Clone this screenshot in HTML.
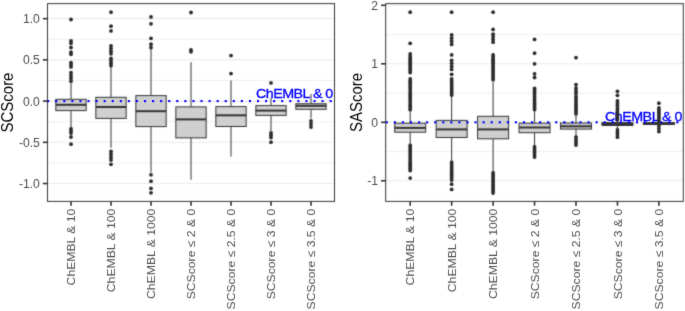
<!DOCTYPE html>
<html><head><meta charset="utf-8"><style>
html,body{margin:0;padding:0;background:#fff;}
body{width:685px;height:311px;overflow:hidden;font-family:"Liberation Sans", sans-serif;}
svg{display:block;}
</style></head><body>
<svg width="685" height="311" viewBox="0 0 685 311" font-family="Liberation Sans, sans-serif">
<defs><filter id="bl" filterUnits="userSpaceOnUse" x="0" y="0" width="685" height="311" color-interpolation-filters="sRGB"><feConvolveMatrix order="3" kernelMatrix="0.0225 0.1050 0.0225 0.1050 0.4900 0.1050 0.0225 0.1050 0.0225" divisor="1" edgeMode="none" preserveAlpha="false"/></filter><filter id="bt" filterUnits="userSpaceOnUse" x="0" y="0" width="685" height="311" color-interpolation-filters="sRGB"><feConvolveMatrix order="3" kernelMatrix="0.0100 0.0800 0.0100 0.0800 0.6400 0.0800 0.0100 0.0800 0.0100" divisor="1" edgeMode="none" preserveAlpha="false"/></filter></defs>
<rect width="685" height="311" fill="#fff"/>
<g filter="url(#bl)">
<line x1="47.5" x2="334.5" y1="39.26" y2="39.26" stroke="#EBEBEB" stroke-width="0.8"/>
<line x1="47.5" x2="334.5" y1="80.49" y2="80.49" stroke="#EBEBEB" stroke-width="0.8"/>
<line x1="47.5" x2="334.5" y1="121.71" y2="121.71" stroke="#EBEBEB" stroke-width="0.8"/>
<line x1="47.5" x2="334.5" y1="162.94" y2="162.94" stroke="#EBEBEB" stroke-width="0.8"/>
<line x1="47.5" x2="334.5" y1="18.65" y2="18.65" stroke="#EBEBEB" stroke-width="1.1"/>
<line x1="47.5" x2="334.5" y1="59.87" y2="59.87" stroke="#EBEBEB" stroke-width="1.1"/>
<line x1="47.5" x2="334.5" y1="101.10" y2="101.10" stroke="#EBEBEB" stroke-width="1.1"/>
<line x1="47.5" x2="334.5" y1="142.32" y2="142.32" stroke="#EBEBEB" stroke-width="1.1"/>
<line x1="47.5" x2="334.5" y1="183.55" y2="183.55" stroke="#EBEBEB" stroke-width="1.1"/>
<line x1="71.0" x2="71.0" y1="83.0" y2="99.3" stroke="#333333" stroke-width="1"/>
<line x1="71.0" x2="71.0" y1="110.6" y2="127.8" stroke="#333333" stroke-width="1"/>
<rect x="55.85" y="99.3" width="30.3" height="11.30" fill="#CFCFCF" stroke="#333333" stroke-width="1"/>
<line x1="55.85" x2="86.15" y1="104.8" y2="104.8" stroke="#333333" stroke-width="2"/>
<line x1="111.0" x2="111.0" y1="66.5" y2="97.3" stroke="#333333" stroke-width="1"/>
<line x1="111.0" x2="111.0" y1="118.4" y2="147.9" stroke="#333333" stroke-width="1"/>
<rect x="95.85" y="97.3" width="30.3" height="21.10" fill="#CFCFCF" stroke="#333333" stroke-width="1"/>
<line x1="95.85" x2="126.15" y1="107.0" y2="107.0" stroke="#333333" stroke-width="2"/>
<line x1="151.0" x2="151.0" y1="48.4" y2="95.6" stroke="#333333" stroke-width="1"/>
<line x1="151.0" x2="151.0" y1="126.6" y2="172.5" stroke="#333333" stroke-width="1"/>
<rect x="135.85" y="95.6" width="30.3" height="31.00" fill="#CFCFCF" stroke="#333333" stroke-width="1"/>
<line x1="135.85" x2="166.15" y1="111.2" y2="111.2" stroke="#333333" stroke-width="2"/>
<line x1="191.0" x2="191.0" y1="62.2" y2="106.9" stroke="#333333" stroke-width="1"/>
<line x1="191.0" x2="191.0" y1="137.9" y2="179.8" stroke="#333333" stroke-width="1"/>
<rect x="175.85" y="106.9" width="30.3" height="31.00" fill="#CFCFCF" stroke="#333333" stroke-width="1"/>
<line x1="175.85" x2="206.15" y1="119.4" y2="119.4" stroke="#333333" stroke-width="2"/>
<line x1="231.0" x2="231.0" y1="80.4" y2="106.6" stroke="#333333" stroke-width="1"/>
<line x1="231.0" x2="231.0" y1="126.5" y2="156.5" stroke="#333333" stroke-width="1"/>
<rect x="215.85" y="106.6" width="30.3" height="19.90" fill="#CFCFCF" stroke="#333333" stroke-width="1"/>
<line x1="215.85" x2="246.15" y1="115.3" y2="115.3" stroke="#333333" stroke-width="2"/>
<line x1="271.0" x2="271.0" y1="97.5" y2="105.6" stroke="#333333" stroke-width="1"/>
<line x1="271.0" x2="271.0" y1="115.4" y2="131.0" stroke="#333333" stroke-width="1"/>
<rect x="255.85" y="105.6" width="30.3" height="9.80" fill="#CFCFCF" stroke="#333333" stroke-width="1"/>
<line x1="255.85" x2="286.15" y1="110.6" y2="110.6" stroke="#333333" stroke-width="2"/>
<line x1="311.0" x2="311.0" y1="94.0" y2="103.7" stroke="#333333" stroke-width="1"/>
<line x1="311.0" x2="311.0" y1="109.3" y2="118.5" stroke="#333333" stroke-width="1"/>
<rect x="295.85" y="103.7" width="30.3" height="5.60" fill="#CFCFCF" stroke="#333333" stroke-width="1"/>
<line x1="295.85" x2="326.15" y1="105.8" y2="105.8" stroke="#333333" stroke-width="2"/>
<rect x="47.5" y="3.6" width="287.0" height="197.8" fill="none" stroke="#333333" stroke-width="1"/>
<line x1="385.7" x2="683.3" y1="34.55" y2="34.55" stroke="#EBEBEB" stroke-width="0.8"/>
<line x1="385.7" x2="683.3" y1="93.05" y2="93.05" stroke="#EBEBEB" stroke-width="0.8"/>
<line x1="385.7" x2="683.3" y1="151.55" y2="151.55" stroke="#EBEBEB" stroke-width="0.8"/>
<line x1="385.7" x2="683.3" y1="5.30" y2="5.30" stroke="#EBEBEB" stroke-width="1.1"/>
<line x1="385.7" x2="683.3" y1="63.80" y2="63.80" stroke="#EBEBEB" stroke-width="1.1"/>
<line x1="385.7" x2="683.3" y1="122.30" y2="122.30" stroke="#EBEBEB" stroke-width="1.1"/>
<line x1="385.7" x2="683.3" y1="180.80" y2="180.80" stroke="#EBEBEB" stroke-width="1.1"/>
<line x1="410.2" x2="410.2" y1="110.0" y2="123.2" stroke="#333333" stroke-width="1"/>
<line x1="410.2" x2="410.2" y1="132.2" y2="144.7" stroke="#333333" stroke-width="1"/>
<rect x="394.70" y="123.2" width="31.0" height="9.00" fill="#CFCFCF" stroke="#333333" stroke-width="1"/>
<line x1="394.70" x2="425.70" y1="127.9" y2="127.9" stroke="#333333" stroke-width="2"/>
<line x1="451.65" x2="451.65" y1="95.5" y2="120.4" stroke="#333333" stroke-width="1"/>
<line x1="451.65" x2="451.65" y1="137.5" y2="162.0" stroke="#333333" stroke-width="1"/>
<rect x="436.15" y="120.4" width="31.0" height="17.10" fill="#CFCFCF" stroke="#333333" stroke-width="1"/>
<line x1="436.15" x2="467.15" y1="129.4" y2="129.4" stroke="#333333" stroke-width="2"/>
<line x1="493.1" x2="493.1" y1="82.0" y2="116.3" stroke="#333333" stroke-width="1"/>
<line x1="493.1" x2="493.1" y1="138.8" y2="172.5" stroke="#333333" stroke-width="1"/>
<rect x="477.60" y="116.3" width="31.0" height="22.50" fill="#CFCFCF" stroke="#333333" stroke-width="1"/>
<line x1="477.60" x2="508.60" y1="129.4" y2="129.4" stroke="#333333" stroke-width="2"/>
<line x1="534.55" x2="534.55" y1="110.0" y2="123.2" stroke="#333333" stroke-width="1"/>
<line x1="534.55" x2="534.55" y1="132.7" y2="146.4" stroke="#333333" stroke-width="1"/>
<rect x="519.05" y="123.2" width="31.0" height="9.50" fill="#CFCFCF" stroke="#333333" stroke-width="1"/>
<line x1="519.05" x2="550.05" y1="127.5" y2="127.5" stroke="#333333" stroke-width="2"/>
<line x1="576.0" x2="576.0" y1="115.0" y2="123.0" stroke="#333333" stroke-width="1"/>
<line x1="576.0" x2="576.0" y1="129.1" y2="136.7" stroke="#333333" stroke-width="1"/>
<rect x="560.50" y="123.0" width="31.0" height="6.10" fill="#CFCFCF" stroke="#333333" stroke-width="1"/>
<line x1="560.50" x2="591.50" y1="126.3" y2="126.3" stroke="#333333" stroke-width="2"/>
<line x1="617.45" x2="617.45" y1="120.5" y2="122.6" stroke="#333333" stroke-width="1"/>
<line x1="617.45" x2="617.45" y1="125.5" y2="129.0" stroke="#333333" stroke-width="1"/>
<rect x="601.95" y="122.6" width="31.0" height="2.90" fill="#CFCFCF" stroke="#333333" stroke-width="1"/>
<line x1="601.95" x2="632.95" y1="124.0" y2="124.0" stroke="#333333" stroke-width="2"/>
<line x1="658.9" x2="658.9" y1="121.8" y2="122.6" stroke="#333333" stroke-width="1"/>
<line x1="658.9" x2="658.9" y1="124.5" y2="125.0" stroke="#333333" stroke-width="1"/>
<rect x="643.40" y="122.6" width="31.0" height="1.90" fill="#CFCFCF" stroke="#333333" stroke-width="1"/>
<line x1="643.40" x2="674.40" y1="123.5" y2="123.5" stroke="#333333" stroke-width="2"/>
<rect x="385.7" y="3.6" width="297.59999999999997" height="197.8" fill="none" stroke="#333333" stroke-width="1"/>
</g>
<g filter="url(#bt)">
<rect x="47.15" y="100.05" width="2.1" height="2.1" fill="#0000FF"/>
<rect x="55.22" y="100.05" width="2.1" height="2.1" fill="#0000FF"/>
<rect x="63.29" y="100.05" width="2.1" height="2.1" fill="#0000FF"/>
<rect x="71.36" y="100.05" width="2.1" height="2.1" fill="#0000FF"/>
<rect x="79.43" y="100.05" width="2.1" height="2.1" fill="#0000FF"/>
<rect x="87.50" y="100.05" width="2.1" height="2.1" fill="#0000FF"/>
<rect x="95.57" y="100.05" width="2.1" height="2.1" fill="#0000FF"/>
<rect x="103.64" y="100.05" width="2.1" height="2.1" fill="#0000FF"/>
<rect x="111.71" y="100.05" width="2.1" height="2.1" fill="#0000FF"/>
<rect x="119.78" y="100.05" width="2.1" height="2.1" fill="#0000FF"/>
<rect x="127.85" y="100.05" width="2.1" height="2.1" fill="#0000FF"/>
<rect x="135.92" y="100.05" width="2.1" height="2.1" fill="#0000FF"/>
<rect x="143.99" y="100.05" width="2.1" height="2.1" fill="#0000FF"/>
<rect x="152.06" y="100.05" width="2.1" height="2.1" fill="#0000FF"/>
<rect x="160.13" y="100.05" width="2.1" height="2.1" fill="#0000FF"/>
<rect x="168.20" y="100.05" width="2.1" height="2.1" fill="#0000FF"/>
<rect x="176.27" y="100.05" width="2.1" height="2.1" fill="#0000FF"/>
<rect x="184.34" y="100.05" width="2.1" height="2.1" fill="#0000FF"/>
<rect x="192.41" y="100.05" width="2.1" height="2.1" fill="#0000FF"/>
<rect x="200.48" y="100.05" width="2.1" height="2.1" fill="#0000FF"/>
<rect x="208.55" y="100.05" width="2.1" height="2.1" fill="#0000FF"/>
<rect x="216.62" y="100.05" width="2.1" height="2.1" fill="#0000FF"/>
<rect x="224.69" y="100.05" width="2.1" height="2.1" fill="#0000FF"/>
<rect x="232.76" y="100.05" width="2.1" height="2.1" fill="#0000FF"/>
<rect x="240.83" y="100.05" width="2.1" height="2.1" fill="#0000FF"/>
<rect x="248.90" y="100.05" width="2.1" height="2.1" fill="#0000FF"/>
<rect x="256.97" y="100.05" width="2.1" height="2.1" fill="#0000FF"/>
<rect x="265.04" y="100.05" width="2.1" height="2.1" fill="#0000FF"/>
<rect x="273.11" y="100.05" width="2.1" height="2.1" fill="#0000FF"/>
<rect x="281.18" y="100.05" width="2.1" height="2.1" fill="#0000FF"/>
<rect x="289.25" y="100.05" width="2.1" height="2.1" fill="#0000FF"/>
<rect x="297.32" y="100.05" width="2.1" height="2.1" fill="#0000FF"/>
<rect x="305.39" y="100.05" width="2.1" height="2.1" fill="#0000FF"/>
<rect x="313.46" y="100.05" width="2.1" height="2.1" fill="#0000FF"/>
<rect x="321.53" y="100.05" width="2.1" height="2.1" fill="#0000FF"/>
<rect x="329.60" y="100.05" width="2.1" height="2.1" fill="#0000FF"/>
<text transform="translate(255.9,97.7) scale(1.06,1)" font-size="13.5" letter-spacing="-0.5" fill="#0000FF" stroke="#0000FF" stroke-width="0.3">ChEMBL &amp; 0</text>
<line x1="42.90" x2="47.5" y1="18.65" y2="18.65" stroke="#333333" stroke-width="1.6"/>
<text x="39.90" y="23.25" text-anchor="end" font-size="12.2" fill="#4D4D4D">1.0</text>
<line x1="42.90" x2="47.5" y1="59.87" y2="59.87" stroke="#333333" stroke-width="1.6"/>
<text x="39.90" y="64.47" text-anchor="end" font-size="12.2" fill="#4D4D4D">0.5</text>
<line x1="42.90" x2="47.5" y1="101.10" y2="101.10" stroke="#333333" stroke-width="1.6"/>
<text x="39.90" y="105.70" text-anchor="end" font-size="12.2" fill="#4D4D4D">0.0</text>
<line x1="42.90" x2="47.5" y1="142.32" y2="142.32" stroke="#333333" stroke-width="1.6"/>
<text x="39.90" y="146.92" text-anchor="end" font-size="12.2" fill="#4D4D4D">-0.5</text>
<line x1="42.90" x2="47.5" y1="183.55" y2="183.55" stroke="#333333" stroke-width="1.6"/>
<text x="39.90" y="188.15" text-anchor="end" font-size="12.2" fill="#4D4D4D">-1.0</text>
<line x1="71.0" x2="71.0" y1="201.4" y2="205.70" stroke="#333333" stroke-width="1.6"/>
<text transform="translate(75.20,208.70) rotate(-90) scale(1,0.95)" text-anchor="end" font-size="12.2" fill="#4D4D4D">ChEMBL &amp; 10</text>
<line x1="111.0" x2="111.0" y1="201.4" y2="205.70" stroke="#333333" stroke-width="1.6"/>
<text transform="translate(115.20,208.70) rotate(-90) scale(1,0.95)" text-anchor="end" font-size="12.2" fill="#4D4D4D">ChEMBL &amp; 100</text>
<line x1="151.0" x2="151.0" y1="201.4" y2="205.70" stroke="#333333" stroke-width="1.6"/>
<text transform="translate(155.20,208.70) rotate(-90) scale(1,0.95)" text-anchor="end" font-size="12.2" fill="#4D4D4D">ChEMBL &amp; 1000</text>
<line x1="191.0" x2="191.0" y1="201.4" y2="205.70" stroke="#333333" stroke-width="1.6"/>
<text transform="translate(195.20,208.70) rotate(-90) scale(1,0.95)" text-anchor="end" font-size="12.2" fill="#4D4D4D">SCScore ≤ 2 &amp; 0</text>
<line x1="231.0" x2="231.0" y1="201.4" y2="205.70" stroke="#333333" stroke-width="1.6"/>
<text transform="translate(235.20,208.70) rotate(-90) scale(1,0.95)" text-anchor="end" font-size="12.2" fill="#4D4D4D">SCScore ≤ 2.5 &amp; 0</text>
<line x1="271.0" x2="271.0" y1="201.4" y2="205.70" stroke="#333333" stroke-width="1.6"/>
<text transform="translate(275.20,208.70) rotate(-90) scale(1,0.95)" text-anchor="end" font-size="12.2" fill="#4D4D4D">SCScore ≤ 3 &amp; 0</text>
<line x1="311.0" x2="311.0" y1="201.4" y2="205.70" stroke="#333333" stroke-width="1.6"/>
<text transform="translate(315.20,208.70) rotate(-90) scale(1,0.95)" text-anchor="end" font-size="12.2" fill="#4D4D4D">SCScore ≤ 3.5 &amp; 0</text>
<text transform="translate(12.80,102.50) rotate(-90) scale(0.98,1.05)" text-anchor="middle" font-size="15.3" fill="#000">SCScore</text>
<rect x="385.75" y="121.25" width="2.1" height="2.1" fill="#0000FF"/>
<rect x="393.82" y="121.25" width="2.1" height="2.1" fill="#0000FF"/>
<rect x="401.89" y="121.25" width="2.1" height="2.1" fill="#0000FF"/>
<rect x="409.96" y="121.25" width="2.1" height="2.1" fill="#0000FF"/>
<rect x="418.03" y="121.25" width="2.1" height="2.1" fill="#0000FF"/>
<rect x="426.10" y="121.25" width="2.1" height="2.1" fill="#0000FF"/>
<rect x="434.17" y="121.25" width="2.1" height="2.1" fill="#0000FF"/>
<rect x="442.24" y="121.25" width="2.1" height="2.1" fill="#0000FF"/>
<rect x="450.31" y="121.25" width="2.1" height="2.1" fill="#0000FF"/>
<rect x="458.38" y="121.25" width="2.1" height="2.1" fill="#0000FF"/>
<rect x="466.45" y="121.25" width="2.1" height="2.1" fill="#0000FF"/>
<rect x="474.52" y="121.25" width="2.1" height="2.1" fill="#0000FF"/>
<rect x="482.59" y="121.25" width="2.1" height="2.1" fill="#0000FF"/>
<rect x="490.66" y="121.25" width="2.1" height="2.1" fill="#0000FF"/>
<rect x="498.73" y="121.25" width="2.1" height="2.1" fill="#0000FF"/>
<rect x="506.80" y="121.25" width="2.1" height="2.1" fill="#0000FF"/>
<rect x="514.87" y="121.25" width="2.1" height="2.1" fill="#0000FF"/>
<rect x="522.94" y="121.25" width="2.1" height="2.1" fill="#0000FF"/>
<rect x="531.01" y="121.25" width="2.1" height="2.1" fill="#0000FF"/>
<rect x="539.08" y="121.25" width="2.1" height="2.1" fill="#0000FF"/>
<rect x="547.15" y="121.25" width="2.1" height="2.1" fill="#0000FF"/>
<rect x="555.22" y="121.25" width="2.1" height="2.1" fill="#0000FF"/>
<rect x="563.29" y="121.25" width="2.1" height="2.1" fill="#0000FF"/>
<rect x="571.36" y="121.25" width="2.1" height="2.1" fill="#0000FF"/>
<rect x="579.43" y="121.25" width="2.1" height="2.1" fill="#0000FF"/>
<rect x="587.50" y="121.25" width="2.1" height="2.1" fill="#0000FF"/>
<rect x="595.57" y="121.25" width="2.1" height="2.1" fill="#0000FF"/>
<rect x="603.64" y="121.25" width="2.1" height="2.1" fill="#0000FF"/>
<rect x="611.71" y="121.25" width="2.1" height="2.1" fill="#0000FF"/>
<rect x="619.78" y="121.25" width="2.1" height="2.1" fill="#0000FF"/>
<rect x="627.85" y="121.25" width="2.1" height="2.1" fill="#0000FF"/>
<rect x="635.92" y="121.25" width="2.1" height="2.1" fill="#0000FF"/>
<rect x="643.99" y="121.25" width="2.1" height="2.1" fill="#0000FF"/>
<rect x="652.06" y="121.25" width="2.1" height="2.1" fill="#0000FF"/>
<rect x="660.13" y="121.25" width="2.1" height="2.1" fill="#0000FF"/>
<rect x="668.20" y="121.25" width="2.1" height="2.1" fill="#0000FF"/>
<rect x="676.27" y="121.25" width="2.1" height="2.1" fill="#0000FF"/>
<text transform="translate(605.0,121.0) scale(1.06,1)" font-size="13.5" letter-spacing="-0.5" fill="#0000FF" stroke="#0000FF" stroke-width="0.3">ChEMBL &amp; 0</text>
<line x1="381.10" x2="385.7" y1="5.30" y2="5.30" stroke="#333333" stroke-width="1.6"/>
<text x="378.10" y="9.90" text-anchor="end" font-size="12.2" fill="#4D4D4D">2</text>
<line x1="381.10" x2="385.7" y1="63.80" y2="63.80" stroke="#333333" stroke-width="1.6"/>
<text x="378.10" y="68.40" text-anchor="end" font-size="12.2" fill="#4D4D4D">1</text>
<line x1="381.10" x2="385.7" y1="122.30" y2="122.30" stroke="#333333" stroke-width="1.6"/>
<text x="378.10" y="126.90" text-anchor="end" font-size="12.2" fill="#4D4D4D">0</text>
<line x1="381.10" x2="385.7" y1="180.80" y2="180.80" stroke="#333333" stroke-width="1.6"/>
<text x="378.10" y="185.40" text-anchor="end" font-size="12.2" fill="#4D4D4D">-1</text>
<line x1="410.2" x2="410.2" y1="201.4" y2="205.70" stroke="#333333" stroke-width="1.6"/>
<text transform="translate(414.40,208.70) rotate(-90) scale(1,0.95)" text-anchor="end" font-size="12.2" fill="#4D4D4D">ChEMBL &amp; 10</text>
<line x1="451.65" x2="451.65" y1="201.4" y2="205.70" stroke="#333333" stroke-width="1.6"/>
<text transform="translate(455.85,208.70) rotate(-90) scale(1,0.95)" text-anchor="end" font-size="12.2" fill="#4D4D4D">ChEMBL &amp; 100</text>
<line x1="493.1" x2="493.1" y1="201.4" y2="205.70" stroke="#333333" stroke-width="1.6"/>
<text transform="translate(497.30,208.70) rotate(-90) scale(1,0.95)" text-anchor="end" font-size="12.2" fill="#4D4D4D">ChEMBL &amp; 1000</text>
<line x1="534.55" x2="534.55" y1="201.4" y2="205.70" stroke="#333333" stroke-width="1.6"/>
<text transform="translate(538.75,208.70) rotate(-90) scale(1,0.95)" text-anchor="end" font-size="12.2" fill="#4D4D4D">SCScore ≤ 2 &amp; 0</text>
<line x1="576.0" x2="576.0" y1="201.4" y2="205.70" stroke="#333333" stroke-width="1.6"/>
<text transform="translate(580.20,208.70) rotate(-90) scale(1,0.95)" text-anchor="end" font-size="12.2" fill="#4D4D4D">SCScore ≤ 2.5 &amp; 0</text>
<line x1="617.45" x2="617.45" y1="201.4" y2="205.70" stroke="#333333" stroke-width="1.6"/>
<text transform="translate(621.65,208.70) rotate(-90) scale(1,0.95)" text-anchor="end" font-size="12.2" fill="#4D4D4D">SCScore ≤ 3 &amp; 0</text>
<line x1="658.9" x2="658.9" y1="201.4" y2="205.70" stroke="#333333" stroke-width="1.6"/>
<text transform="translate(663.10,208.70) rotate(-90) scale(1,0.95)" text-anchor="end" font-size="12.2" fill="#4D4D4D">SCScore ≤ 3.5 &amp; 0</text>
<text transform="translate(362.20,102.50) rotate(-90) scale(0.98,1.05)" text-anchor="middle" font-size="15.3" fill="#000">SAScore</text>
</g>
<g filter="url(#bl)">
<circle cx="71.0" cy="19.5" r="1.9" fill="#2B2B2B"/>
<circle cx="71.0" cy="40.80" r="1.9" fill="#2B2B2B"/>
<circle cx="71.0" cy="43.20" r="1.9" fill="#2B2B2B"/>
<circle cx="71.0" cy="47.5" r="1.9" fill="#2B2B2B"/>
<circle cx="71.0" cy="52.20" r="1.9" fill="#2B2B2B"/>
<circle cx="71.0" cy="54.30" r="1.9" fill="#2B2B2B"/>
<circle cx="71.0" cy="62.60" r="1.9" fill="#2B2B2B"/>
<circle cx="71.0" cy="64.75" r="1.9" fill="#2B2B2B"/>
<circle cx="71.0" cy="66.90" r="1.9" fill="#2B2B2B"/>
<circle cx="71.0" cy="72.70" r="1.9" fill="#2B2B2B"/>
<circle cx="71.0" cy="75.53" r="1.9" fill="#2B2B2B"/>
<circle cx="71.0" cy="78.37" r="1.9" fill="#2B2B2B"/>
<circle cx="71.0" cy="81.20" r="1.9" fill="#2B2B2B"/>
<circle cx="71.0" cy="128.80" r="1.9" fill="#2B2B2B"/>
<circle cx="71.0" cy="130.90" r="1.9" fill="#2B2B2B"/>
<circle cx="71.0" cy="133.00" r="1.9" fill="#2B2B2B"/>
<circle cx="71.0" cy="137.0" r="1.9" fill="#2B2B2B"/>
<circle cx="71.0" cy="144.2" r="1.9" fill="#2B2B2B"/>
<circle cx="111.0" cy="12.2" r="1.9" fill="#2B2B2B"/>
<circle cx="111.0" cy="26.2" r="1.9" fill="#2B2B2B"/>
<circle cx="111.0" cy="30.9" r="1.9" fill="#2B2B2B"/>
<circle cx="111.0" cy="45.80" r="1.9" fill="#2B2B2B"/>
<circle cx="111.0" cy="48.47" r="1.9" fill="#2B2B2B"/>
<circle cx="111.0" cy="51.13" r="1.9" fill="#2B2B2B"/>
<circle cx="111.0" cy="53.80" r="1.9" fill="#2B2B2B"/>
<circle cx="111.0" cy="58.50" r="1.9" fill="#2B2B2B"/>
<circle cx="111.0" cy="60.87" r="1.9" fill="#2B2B2B"/>
<circle cx="111.0" cy="63.23" r="1.9" fill="#2B2B2B"/>
<circle cx="111.0" cy="65.60" r="1.9" fill="#2B2B2B"/>
<circle cx="111.0" cy="151.50" r="1.9" fill="#2B2B2B"/>
<circle cx="111.0" cy="154.33" r="1.9" fill="#2B2B2B"/>
<circle cx="111.0" cy="157.17" r="1.9" fill="#2B2B2B"/>
<circle cx="111.0" cy="160.00" r="1.9" fill="#2B2B2B"/>
<circle cx="111.0" cy="164.3" r="1.9" fill="#2B2B2B"/>
<circle cx="151.0" cy="16.9" r="1.9" fill="#2B2B2B"/>
<circle cx="151.0" cy="23.8" r="1.9" fill="#2B2B2B"/>
<circle cx="151.0" cy="38.3" r="1.9" fill="#2B2B2B"/>
<circle cx="151.0" cy="44.20" r="1.9" fill="#2B2B2B"/>
<circle cx="151.0" cy="47.60" r="1.9" fill="#2B2B2B"/>
<circle cx="151.0" cy="174.8" r="1.9" fill="#2B2B2B"/>
<circle cx="151.0" cy="181.2" r="1.9" fill="#2B2B2B"/>
<circle cx="151.0" cy="188.4" r="1.9" fill="#2B2B2B"/>
<circle cx="151.0" cy="192.8" r="1.9" fill="#2B2B2B"/>
<circle cx="191.0" cy="12.5" r="1.9" fill="#2B2B2B"/>
<circle cx="191.0" cy="49.80" r="1.9" fill="#2B2B2B"/>
<circle cx="191.0" cy="51.80" r="1.9" fill="#2B2B2B"/>
<circle cx="231.0" cy="55.6" r="1.9" fill="#2B2B2B"/>
<circle cx="231.0" cy="73.6" r="1.9" fill="#2B2B2B"/>
<circle cx="271.0" cy="82.9" r="1.9" fill="#2B2B2B"/>
<circle cx="271.0" cy="132.80" r="1.9" fill="#2B2B2B"/>
<circle cx="271.0" cy="135.20" r="1.9" fill="#2B2B2B"/>
<circle cx="271.0" cy="137.60" r="1.9" fill="#2B2B2B"/>
<circle cx="271.0" cy="142.2" r="1.9" fill="#2B2B2B"/>
<circle cx="311.0" cy="120.90" r="1.9" fill="#2B2B2B"/>
<circle cx="311.0" cy="123.95" r="1.9" fill="#2B2B2B"/>
<circle cx="311.0" cy="127.00" r="1.9" fill="#2B2B2B"/>
<circle cx="410.2" cy="12.2" r="1.9" fill="#2B2B2B"/>
<circle cx="410.2" cy="43.3" r="1.9" fill="#2B2B2B"/>
<circle cx="410.2" cy="54.00" r="1.9" fill="#2B2B2B"/>
<circle cx="410.2" cy="56.07" r="1.9" fill="#2B2B2B"/>
<circle cx="410.2" cy="58.13" r="1.9" fill="#2B2B2B"/>
<circle cx="410.2" cy="60.20" r="1.9" fill="#2B2B2B"/>
<circle cx="410.2" cy="62.27" r="1.9" fill="#2B2B2B"/>
<circle cx="410.2" cy="64.33" r="1.9" fill="#2B2B2B"/>
<circle cx="410.2" cy="66.40" r="1.9" fill="#2B2B2B"/>
<circle cx="410.2" cy="68.47" r="1.9" fill="#2B2B2B"/>
<circle cx="410.2" cy="70.53" r="1.9" fill="#2B2B2B"/>
<circle cx="410.2" cy="72.60" r="1.9" fill="#2B2B2B"/>
<circle cx="410.2" cy="79.00" r="1.9" fill="#2B2B2B"/>
<circle cx="410.2" cy="81.19" r="1.9" fill="#2B2B2B"/>
<circle cx="410.2" cy="83.37" r="1.9" fill="#2B2B2B"/>
<circle cx="410.2" cy="85.56" r="1.9" fill="#2B2B2B"/>
<circle cx="410.2" cy="87.74" r="1.9" fill="#2B2B2B"/>
<circle cx="410.2" cy="89.93" r="1.9" fill="#2B2B2B"/>
<circle cx="410.2" cy="92.11" r="1.9" fill="#2B2B2B"/>
<circle cx="410.2" cy="94.30" r="1.9" fill="#2B2B2B"/>
<circle cx="410.2" cy="96.49" r="1.9" fill="#2B2B2B"/>
<circle cx="410.2" cy="98.67" r="1.9" fill="#2B2B2B"/>
<circle cx="410.2" cy="100.86" r="1.9" fill="#2B2B2B"/>
<circle cx="410.2" cy="103.04" r="1.9" fill="#2B2B2B"/>
<circle cx="410.2" cy="105.23" r="1.9" fill="#2B2B2B"/>
<circle cx="410.2" cy="107.41" r="1.9" fill="#2B2B2B"/>
<circle cx="410.2" cy="109.60" r="1.9" fill="#2B2B2B"/>
<circle cx="410.2" cy="145.50" r="1.9" fill="#2B2B2B"/>
<circle cx="410.2" cy="147.58" r="1.9" fill="#2B2B2B"/>
<circle cx="410.2" cy="149.67" r="1.9" fill="#2B2B2B"/>
<circle cx="410.2" cy="151.75" r="1.9" fill="#2B2B2B"/>
<circle cx="410.2" cy="153.83" r="1.9" fill="#2B2B2B"/>
<circle cx="410.2" cy="155.92" r="1.9" fill="#2B2B2B"/>
<circle cx="410.2" cy="158.00" r="1.9" fill="#2B2B2B"/>
<circle cx="410.2" cy="160.08" r="1.9" fill="#2B2B2B"/>
<circle cx="410.2" cy="162.17" r="1.9" fill="#2B2B2B"/>
<circle cx="410.2" cy="164.25" r="1.9" fill="#2B2B2B"/>
<circle cx="410.2" cy="166.33" r="1.9" fill="#2B2B2B"/>
<circle cx="410.2" cy="168.42" r="1.9" fill="#2B2B2B"/>
<circle cx="410.2" cy="170.50" r="1.9" fill="#2B2B2B"/>
<circle cx="410.2" cy="178.1" r="1.9" fill="#2B2B2B"/>
<circle cx="451.65" cy="12.2" r="1.9" fill="#2B2B2B"/>
<circle cx="451.65" cy="35.00" r="1.9" fill="#2B2B2B"/>
<circle cx="451.65" cy="38.13" r="1.9" fill="#2B2B2B"/>
<circle cx="451.65" cy="41.27" r="1.9" fill="#2B2B2B"/>
<circle cx="451.65" cy="44.40" r="1.9" fill="#2B2B2B"/>
<circle cx="451.65" cy="54.9" r="1.9" fill="#2B2B2B"/>
<circle cx="451.65" cy="60.30" r="1.9" fill="#2B2B2B"/>
<circle cx="451.65" cy="63.33" r="1.9" fill="#2B2B2B"/>
<circle cx="451.65" cy="66.37" r="1.9" fill="#2B2B2B"/>
<circle cx="451.65" cy="69.40" r="1.9" fill="#2B2B2B"/>
<circle cx="451.65" cy="74.3" r="1.9" fill="#2B2B2B"/>
<circle cx="451.65" cy="78.80" r="1.9" fill="#2B2B2B"/>
<circle cx="451.65" cy="80.83" r="1.9" fill="#2B2B2B"/>
<circle cx="451.65" cy="82.85" r="1.9" fill="#2B2B2B"/>
<circle cx="451.65" cy="84.88" r="1.9" fill="#2B2B2B"/>
<circle cx="451.65" cy="86.90" r="1.9" fill="#2B2B2B"/>
<circle cx="451.65" cy="88.92" r="1.9" fill="#2B2B2B"/>
<circle cx="451.65" cy="90.95" r="1.9" fill="#2B2B2B"/>
<circle cx="451.65" cy="92.97" r="1.9" fill="#2B2B2B"/>
<circle cx="451.65" cy="95.00" r="1.9" fill="#2B2B2B"/>
<circle cx="451.65" cy="162.50" r="1.9" fill="#2B2B2B"/>
<circle cx="451.65" cy="164.69" r="1.9" fill="#2B2B2B"/>
<circle cx="451.65" cy="166.88" r="1.9" fill="#2B2B2B"/>
<circle cx="451.65" cy="169.06" r="1.9" fill="#2B2B2B"/>
<circle cx="451.65" cy="171.25" r="1.9" fill="#2B2B2B"/>
<circle cx="451.65" cy="173.44" r="1.9" fill="#2B2B2B"/>
<circle cx="451.65" cy="175.62" r="1.9" fill="#2B2B2B"/>
<circle cx="451.65" cy="177.81" r="1.9" fill="#2B2B2B"/>
<circle cx="451.65" cy="180.00" r="1.9" fill="#2B2B2B"/>
<circle cx="451.65" cy="184.2" r="1.9" fill="#2B2B2B"/>
<circle cx="451.65" cy="189.4" r="1.9" fill="#2B2B2B"/>
<circle cx="493.1" cy="12.2" r="1.9" fill="#2B2B2B"/>
<circle cx="493.1" cy="29.4" r="1.9" fill="#2B2B2B"/>
<circle cx="493.1" cy="34.20" r="1.9" fill="#2B2B2B"/>
<circle cx="493.1" cy="36.87" r="1.9" fill="#2B2B2B"/>
<circle cx="493.1" cy="39.53" r="1.9" fill="#2B2B2B"/>
<circle cx="493.1" cy="42.20" r="1.9" fill="#2B2B2B"/>
<circle cx="493.1" cy="55.00" r="1.9" fill="#2B2B2B"/>
<circle cx="493.1" cy="57.07" r="1.9" fill="#2B2B2B"/>
<circle cx="493.1" cy="59.13" r="1.9" fill="#2B2B2B"/>
<circle cx="493.1" cy="61.20" r="1.9" fill="#2B2B2B"/>
<circle cx="493.1" cy="63.27" r="1.9" fill="#2B2B2B"/>
<circle cx="493.1" cy="65.33" r="1.9" fill="#2B2B2B"/>
<circle cx="493.1" cy="67.40" r="1.9" fill="#2B2B2B"/>
<circle cx="493.1" cy="69.47" r="1.9" fill="#2B2B2B"/>
<circle cx="493.1" cy="71.53" r="1.9" fill="#2B2B2B"/>
<circle cx="493.1" cy="73.60" r="1.9" fill="#2B2B2B"/>
<circle cx="493.1" cy="75.67" r="1.9" fill="#2B2B2B"/>
<circle cx="493.1" cy="77.73" r="1.9" fill="#2B2B2B"/>
<circle cx="493.1" cy="79.80" r="1.9" fill="#2B2B2B"/>
<circle cx="493.1" cy="173.00" r="1.9" fill="#2B2B2B"/>
<circle cx="493.1" cy="175.00" r="1.9" fill="#2B2B2B"/>
<circle cx="493.1" cy="177.00" r="1.9" fill="#2B2B2B"/>
<circle cx="493.1" cy="179.00" r="1.9" fill="#2B2B2B"/>
<circle cx="493.1" cy="181.00" r="1.9" fill="#2B2B2B"/>
<circle cx="493.1" cy="183.00" r="1.9" fill="#2B2B2B"/>
<circle cx="493.1" cy="185.00" r="1.9" fill="#2B2B2B"/>
<circle cx="493.1" cy="187.00" r="1.9" fill="#2B2B2B"/>
<circle cx="493.1" cy="189.00" r="1.9" fill="#2B2B2B"/>
<circle cx="493.1" cy="191.00" r="1.9" fill="#2B2B2B"/>
<circle cx="493.1" cy="193.00" r="1.9" fill="#2B2B2B"/>
<circle cx="534.55" cy="39.4" r="1.9" fill="#2B2B2B"/>
<circle cx="534.55" cy="53.2" r="1.9" fill="#2B2B2B"/>
<circle cx="534.55" cy="63.8" r="1.9" fill="#2B2B2B"/>
<circle cx="534.55" cy="73.8" r="1.9" fill="#2B2B2B"/>
<circle cx="534.55" cy="77.5" r="1.9" fill="#2B2B2B"/>
<circle cx="534.55" cy="88.30" r="1.9" fill="#2B2B2B"/>
<circle cx="534.55" cy="90.42" r="1.9" fill="#2B2B2B"/>
<circle cx="534.55" cy="92.54" r="1.9" fill="#2B2B2B"/>
<circle cx="534.55" cy="94.66" r="1.9" fill="#2B2B2B"/>
<circle cx="534.55" cy="96.78" r="1.9" fill="#2B2B2B"/>
<circle cx="534.55" cy="98.90" r="1.9" fill="#2B2B2B"/>
<circle cx="534.55" cy="101.02" r="1.9" fill="#2B2B2B"/>
<circle cx="534.55" cy="103.14" r="1.9" fill="#2B2B2B"/>
<circle cx="534.55" cy="105.26" r="1.9" fill="#2B2B2B"/>
<circle cx="534.55" cy="107.38" r="1.9" fill="#2B2B2B"/>
<circle cx="534.55" cy="109.50" r="1.9" fill="#2B2B2B"/>
<circle cx="534.55" cy="147.00" r="1.9" fill="#2B2B2B"/>
<circle cx="534.55" cy="149.00" r="1.9" fill="#2B2B2B"/>
<circle cx="534.55" cy="151.00" r="1.9" fill="#2B2B2B"/>
<circle cx="534.55" cy="153.00" r="1.9" fill="#2B2B2B"/>
<circle cx="534.55" cy="155.00" r="1.9" fill="#2B2B2B"/>
<circle cx="534.55" cy="157.00" r="1.9" fill="#2B2B2B"/>
<circle cx="576.0" cy="57.7" r="1.9" fill="#2B2B2B"/>
<circle cx="576.0" cy="84.7" r="1.9" fill="#2B2B2B"/>
<circle cx="576.0" cy="88.20" r="1.9" fill="#2B2B2B"/>
<circle cx="576.0" cy="91.00" r="1.9" fill="#2B2B2B"/>
<circle cx="576.0" cy="93.20" r="1.9" fill="#2B2B2B"/>
<circle cx="576.0" cy="96.40" r="1.9" fill="#2B2B2B"/>
<circle cx="576.0" cy="98.80" r="1.9" fill="#2B2B2B"/>
<circle cx="576.0" cy="100.94" r="1.9" fill="#2B2B2B"/>
<circle cx="576.0" cy="103.09" r="1.9" fill="#2B2B2B"/>
<circle cx="576.0" cy="105.23" r="1.9" fill="#2B2B2B"/>
<circle cx="576.0" cy="107.37" r="1.9" fill="#2B2B2B"/>
<circle cx="576.0" cy="109.51" r="1.9" fill="#2B2B2B"/>
<circle cx="576.0" cy="111.66" r="1.9" fill="#2B2B2B"/>
<circle cx="576.0" cy="113.80" r="1.9" fill="#2B2B2B"/>
<circle cx="576.0" cy="137.20" r="1.9" fill="#2B2B2B"/>
<circle cx="576.0" cy="139.80" r="1.9" fill="#2B2B2B"/>
<circle cx="576.0" cy="142.40" r="1.9" fill="#2B2B2B"/>
<circle cx="576.0" cy="145.00" r="1.9" fill="#2B2B2B"/>
<circle cx="617.45" cy="91.3" r="1.9" fill="#2B2B2B"/>
<circle cx="617.45" cy="95.3" r="1.9" fill="#2B2B2B"/>
<circle cx="617.45" cy="101.00" r="1.9" fill="#2B2B2B"/>
<circle cx="617.45" cy="103.10" r="1.9" fill="#2B2B2B"/>
<circle cx="617.45" cy="105.20" r="1.9" fill="#2B2B2B"/>
<circle cx="617.45" cy="107.80" r="1.9" fill="#2B2B2B"/>
<circle cx="617.45" cy="109.80" r="1.9" fill="#2B2B2B"/>
<circle cx="617.45" cy="111.80" r="1.9" fill="#2B2B2B"/>
<circle cx="617.45" cy="113.80" r="1.9" fill="#2B2B2B"/>
<circle cx="617.45" cy="115.80" r="1.9" fill="#2B2B2B"/>
<circle cx="617.45" cy="117.80" r="1.9" fill="#2B2B2B"/>
<circle cx="617.45" cy="119.80" r="1.9" fill="#2B2B2B"/>
<circle cx="617.45" cy="130.00" r="1.9" fill="#2B2B2B"/>
<circle cx="617.45" cy="132.40" r="1.9" fill="#2B2B2B"/>
<circle cx="617.45" cy="134.80" r="1.9" fill="#2B2B2B"/>
<circle cx="617.45" cy="137.20" r="1.9" fill="#2B2B2B"/>
<circle cx="658.9" cy="103.2" r="1.9" fill="#2B2B2B"/>
<circle cx="658.9" cy="108.00" r="1.9" fill="#2B2B2B"/>
<circle cx="658.9" cy="110.17" r="1.9" fill="#2B2B2B"/>
<circle cx="658.9" cy="112.33" r="1.9" fill="#2B2B2B"/>
<circle cx="658.9" cy="114.50" r="1.9" fill="#2B2B2B"/>
<circle cx="658.9" cy="116.67" r="1.9" fill="#2B2B2B"/>
<circle cx="658.9" cy="118.83" r="1.9" fill="#2B2B2B"/>
<circle cx="658.9" cy="121.00" r="1.9" fill="#2B2B2B"/>
<circle cx="658.9" cy="126.00" r="1.9" fill="#2B2B2B"/>
<circle cx="658.9" cy="128.80" r="1.9" fill="#2B2B2B"/>
<circle cx="658.9" cy="131.60" r="1.9" fill="#2B2B2B"/>
</g>
</svg>
</body></html>
